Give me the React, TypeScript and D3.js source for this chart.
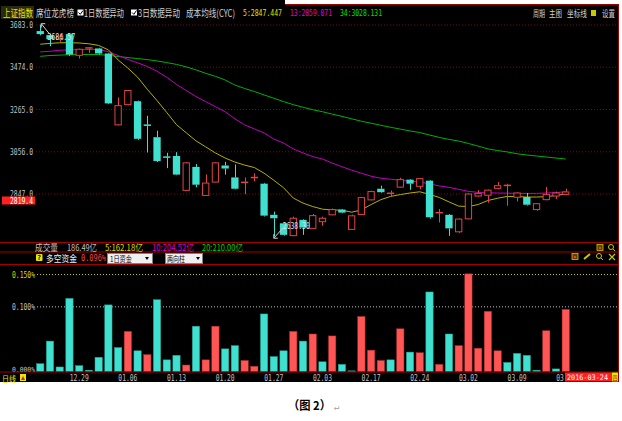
import React from 'react';
import * as d3 from 'd3';

// ---------- data ----------
const dates = ['12.23','12.24','12.25','12.28','12.29','12.30','12.31','01.04','01.05','01.06','01.07','01.08','01.11','01.12','01.13','01.14','01.15','01.18','01.19','01.20','01.21','01.22','01.25','01.26','01.27','01.28','01.29','02.01','02.02','02.03','02.04','02.05','02.15','02.16','02.17','02.18','02.19','02.22','02.23','02.24','02.25','02.26','02.29','03.01','03.02','03.03','03.04','03.07','03.08','03.09','03.10','03.11','03.14','03.15','03.16'];

const openP = [3653,3633,3612,3638,3533,3566,3567,3542,3189,3289,3306,3190,3128,3032,3035,2865,2981,2840,2906,2988,2929,2903,2927,2898,2744,2702,2641,2719,2677,2710,2744,2770,2672,2746,2818,2873,2851,2881,2918,2885,2913,2752,2744,2660,2724,2837,2841,2875,2890,2831,2832,2770,2819,2837,2845];
const closeP = [3638,3613,3628,3537,3563,3572,3542,3295,3284,3359,3120,3186,3010,3028,2943,3001,2893,2901,3001,2973,2873,2907,2931,2740,2727,2645,2727,2681,2740,2727,2770,2755,2739,2829,2859,2856,2853,2918,2898,2923,2732,2757,2677,2723,2847,2850,2866,2888,2892,2852,2794,2799,2845,2852,2857];
const highP = [3684.57,3640,3640,3642,3566,3574,3570,3545,3325,3362,3309,3234,3160,3051,3054,3005,2995,2944,3004,3006,2993,2929,2949,2902,2760,2705,2735,2722,2748,2735,2775,2773,2745,2833,2863,2888,2864,2927,2921,2926,2916,2773,2748,2726,2850,2866,2869,2906,2898,2855,2852,2802,2882,2859,2873];
const lowP = [3632,3578,3600,3530,3517,3545,3536,3292,3186,3286,3115,3052,3005,2975,2940,2862,2880,2838,2904,2943,2870,2846,2909,2736,2638.3,2641,2638.5,2645,2675,2690,2742,2752,2670,2744,2815,2853,2832,2879,2868,2870,2725,2706,2640,2655,2722,2834,2804,2870,2789,2810,2790,2764,2816,2822,2843];

const cyc5 = [3588,3592,3595,3595,3594,3590,3582,3560,3510,3470,3425,3365,3309,3250,3190,3150,3110,3080,3050,3025,3005,2990,2978,2950,2915,2878,2827,2802,2785,2772,2768,2767,2757,2768,2795,2819,2835,2844,2852,2858,2845,2830,2808,2787,2785,2795,2815,2826,2835,2834,2832,2832,2834,2840,2847];
const cyc13 = [3550,3553,3558,3560,3561,3562,3562,3551,3532,3513,3496,3478,3454,3424,3389,3359,3329,3304,3279,3254,3219,3189,3169,3149,3119,3099,3070,3050,3032,3020,3000,2982,2965,2950,2935,2925,2920,2915,2910,2907,2897,2887,2880,2870,2860,2855,2853,2852,2851,2850,2850,2850,2852,2854,2858];
const cyc34 = [3528,3532,3534,3536,3537,3537,3537,3533,3527,3522,3517,3512,3505,3497,3488,3476,3461,3444,3429,3411,3386,3369,3354,3337,3321,3304,3289,3276,3264,3254,3242,3231,3219,3207,3197,3187,3177,3168,3159,3151,3139,3127,3117,3109,3097,3084,3070,3062,3055,3046,3040,3035,3030,3025,3020];

// signed: + = inflow (red), - = outflow (cyan); percent
const fund = [-0.012,-0.047,-0.007,-0.113,-0.009,-0.002,-0.022,-0.103,-0.037,0.062,-0.032,0.026,-0.111,-0.018,-0.025,0.010,-0.070,0.018,0.070,-0.035,-0.040,0.017,0.008,-0.089,-0.023,-0.032,0.062,-0.047,0.058,-0.015,0.055,-0.011,-0.001,0.085,0.033,0.017,-0.018,0.066,-0.030,0.029,-0.123,0.011,-0.058,0.040,0.151,0.036,0.093,0.032,-0.014,-0.028,-0.025,-0.002,0.063,-0.004,0.096];

const priceTicks = [3683, 3474, 3265, 3056, 2847];
const fundTicks = [0.15, 0.1, 0];
const labelIdx = [4, 9, 14, 19, 24, 29, 34, 39, 44, 49, 54];

// ---------- style ----------
const MONO = '"DejaVu Sans Mono", monospace';
const CJK = '"Noto Sans CJK SC", sans-serif';
const CYAN = '#40E0D0';
const RED = '#FF5555';
const RED_C = '#E04444';
const GRID = '#8a0000';
const SEP = '#a00000';

function Txt({ x, y, w, fill = '#c0c0c0', size = 9, font = MONO, weight = 'normal', children, clip }: any) {
  return (
    <text x={x} y={y} fill={fill} fontSize={size} fontFamily={font} fontWeight={weight}
      textLength={w} lengthAdjust="spacingAndGlyphs" clipPath={clip}>{children}</text>
  );
}

export default function App() {
  const W = 622, H = 421;
  const n = dates.length;
  const xb = d3.scaleBand<number>().domain(d3.range(n)).range([35.4, 570.6]).paddingInner(0.25).paddingOuter(0.125);
  const bw = xb.bandwidth();
  const xc = (i: number) => (xb(i) as number) + bw / 2;
  const yP = d3.scaleLinear().domain([2847, 3683]).range([194, 25]);
  const yF = d3.scaleLinear().domain([0, 0.15]).range([371.5, 274.5]);

  const line = d3.line<number>().x((_, i) => xc(i)).y(d => yP(d));

  const hiIdx = d3.maxIndex(highP);
  const loIdx = d3.minIndex(lowP);

  return (
    <svg width={W} height={H} style={{ position: 'absolute', left: 0, top: 0, display: 'block' }}>
      <defs>
        <clipPath id="axisClip"><rect x={0} y={372} width={564.5} height={10} /></clipPath>
        <clipPath id="priceClip"><rect x={0} y={0} width={40} height={196.5} /></clipPath>
      </defs>
      <rect x={0} y={0} width={W} height={H} fill="#fff" />
      <rect x={0} y={0} width={619} height={382} fill="#000" />
      <rect x={285} y={0} width={337} height={4} fill="#fff" />
      <line x1={285} x2={619} y1={4.5} y2={4.5} stroke={SEP} />
      <line x1={618.5} x2={618.5} y1={4.5} y2={382} stroke={SEP} />

      {/* header */}
      <rect x={1} y={6} width={33} height={13} fill="#2a2a10" />
      <Txt x={3} y={17} w={30} fill="#e8e800" size={10} font={CJK}>上证指数</Txt>
      <Txt x={36} y={17} w={38} fill="#d0d0d0" size={10} font={CJK}>席位龙虎榜</Txt>
      <rect x={77.5} y={9.5} width={6} height={6} fill="#fff" />
      <path d="M78.5,12.5 L80.3,14.3 L83,10.5" stroke="#000" fill="none" strokeWidth={1} />
      <Txt x={84} y={17} w={40} fill="#d0d0d0" size={10} font={CJK}>1日数据异动</Txt>
      <rect x={131} y={9.5} width={6} height={6} fill="#fff" />
      <path d="M132,12.5 L133.8,14.3 L136.5,10.5" stroke="#000" fill="none" strokeWidth={1} />
      <Txt x={138} y={17} w={42} fill="#d0d0d0" size={10} font={CJK}>3日数据异动</Txt>
      <Txt x={186} y={17} w={49} fill="#d0d0d0" size={10} font={CJK}>成本均线(CYC)</Txt>
      <Txt x={243} y={16} w={39} fill="#e0e000" size={8}>5:2847.447</Txt>
      <Txt x={290} y={16} w={42} fill="#e000e0" size={8}>13:2859.071</Txt>
      <Txt x={340} y={16} w={42} fill="#00e000" size={8}>34:3028.131</Txt>
      <Txt x={533} y={17} w={12} fill="#d0d0d0" size={9} font={CJK}>周期</Txt>
      <Txt x={549} y={17} w={13} fill="#d0d0d0" size={9} font={CJK}>主图</Txt>
      <Txt x={567} y={17} w={20} fill="#d0d0d0" size={9} font={CJK}>坐标线</Txt>
      <rect x={591} y={10} width={5} height={6} fill="#c8c800" />
      <Txt x={602} y={17} w={13} fill="#d0d0d0" size={9} font={CJK}>设置</Txt>

      {/* price grid & labels */}
      {priceTicks.map(t => (
        <g key={t}>
          <line x1={36} x2={618} y1={yP(t)} y2={yP(t)} stroke={GRID} strokeDasharray="1,2" />
          <Txt x={10} y={yP(t) + 3} w={23} size={9} clip="url(#priceClip)">{t.toFixed(1)}</Txt>
        </g>
      ))}

      {/* moving cost lines */}
      <path d={line(cyc34) || ''} fill="none" stroke="#00b000" strokeWidth={1} />
      <path d={line(cyc13) || ''} fill="none" stroke="#c000c0" strokeWidth={1} />
      <path d={line(cyc5) || ''} fill="none" stroke="#b4b000" strokeWidth={1} />

      {/* candles */}
      {dates.map((_, i) => {
        const o = openP[i], c = closeP[i], h = highP[i], l = lowP[i];
        const up = c >= o;
        const x0 = xb(i) as number;
        const cx = Math.round(xc(i)) + 0.5;
        const top = yP(Math.max(o, c)), bot = yP(Math.min(o, c));
        const col = up ? RED_C : CYAN;
        const bh = Math.max(bot - top, 1);
        return (
          <g key={i}>
            <line x1={cx} x2={cx} y1={yP(h)} y2={top} stroke={col} />
            <line x1={cx} x2={cx} y1={top + bh} y2={yP(l)} stroke={col} />
            {bh <= 1.5 ? (
              <line x1={x0} x2={x0 + bw} y1={top + 0.5} y2={top + 0.5} stroke={col} strokeWidth={1.5} />
            ) : up ? (
              <rect x={x0 + 0.5} y={top} width={bw - 1} height={bh} fill="#000" stroke={col} />
            ) : (
              <rect x={x0} y={top} width={bw} height={bh} fill={col} />
            )}
          </g>
        );
      })}

      {/* extreme annotations */}
      <g stroke="#d0d0d0" fill="none">
        <line x1={xc(hiIdx) + 1} y1={yP(highP[hiIdx]) - 1} x2={xc(hiIdx) + 9} y2={yP(highP[hiIdx]) + 9} />
        <path d={`M${xc(hiIdx) + 1},${yP(highP[hiIdx]) + 3} L${xc(hiIdx) + 1},${yP(highP[hiIdx]) - 1} L${xc(hiIdx) + 5},${yP(highP[hiIdx]) - 1}`} />
        <line x1={xc(loIdx)} y1={yP(lowP[loIdx]) + 2} x2={xc(loIdx) + 9} y2={yP(lowP[loIdx]) - 8} />
        <path d={`M${xc(loIdx)},${yP(lowP[loIdx]) - 2} L${xc(loIdx)},${yP(lowP[loIdx]) + 2} L${xc(loIdx) + 4},${yP(lowP[loIdx]) + 2}`} />
      </g>
      <Txt x={xc(hiIdx) + 7} y={yP(highP[hiIdx]) + 15} w={28} fill="#e0e0e0" size={9}>{highP[hiIdx].toFixed(2)}</Txt>
      <Txt x={xc(loIdx) + 9} y={yP(lowP[loIdx]) - 7} w={27} fill="#e0e0e0" size={9}>{lowP[loIdx].toFixed(2)}</Txt>

      {/* current price tag */}
      <rect x={2} y={196.5} width={33} height={8} fill="#ff2020" />
      <Txt x={10} y={203.5} w={23} fill="#fff" size={8}>2819.4</Txt>

      {/* separators */}
      <line x1={0} x2={619} y1={242.5} y2={242.5} stroke={SEP} />
      <line x1={0} x2={619} y1={252} y2={252} stroke={SEP} />
      <line x1={0} x2={619} y1={264.5} y2={264.5} stroke={SEP} />

      {/* volume row */}
      <Txt x={35} y={251} w={23} fill="#c0c0c0" size={9} font={CJK}>成交量</Txt>
      <Txt x={67} y={251} w={30} fill="#c0c0c0" size={9} font={CJK}>186.49亿</Txt>
      <Txt x={105} y={251} w={38} fill="#d8d800" size={9} font={CJK}>5:162.18亿</Txt>
      <Txt x={152} y={251} w={42} fill="#d800d8" size={9} font={CJK}>10:204.52亿</Txt>
      <Txt x={202} y={251} w={41} fill="#00d000" size={9} font={CJK}>20:210.00亿</Txt>
      <rect x={597} y={244.5} width={6} height={6} fill="#604000" stroke="#c8c800" strokeWidth={0.8} />
      <rect x={599} y={247} width={2} height={2} fill="#ff3030" />
      <circle cx={611} cy={247} r={2.5} fill="none" stroke="#c8c800" />
      <line x1={613} y1={249} x2={615} y2={251} stroke="#c8c800" />

      {/* fund row */}
      <rect x={36} y={254} width={6.5} height={7} fill="#e8e800" rx={1} />
      <text x={39.2} y={260} fontSize={7} fontFamily={MONO} fontWeight="bold" textAnchor="middle" fill="#000">?</text>
      <Txt x={46} y={262} w={31} fill="#f0f0f0" size={9} font={CJK}>多空资金</Txt>
      <Txt x={81} y={261} w={25} fill="#ff4040" size={8}>0.096%</Txt>
      <rect x={107.5} y={253.5} width={45} height={10} fill="#f0f0f0" stroke="#808080" />
      <Txt x={110} y={261.5} w={22} fill="#000" size={8} font={CJK}>1日资金</Txt>
      <path d="M145,257 L149,257 L147,260 Z" fill="#000" />
      <rect x={165.5} y={253.5} width={37} height={10} fill="#f0f0f0" stroke="#808080" />
      <Txt x={167} y={261.5} w={18} fill="#000" size={8} font={CJK}>两向柱</Txt>
      <path d="M196,257 L200,257 L198,260 Z" fill="#000" />
      <rect x={572} y={253.5} width={6} height={6} fill="#604000" stroke="#c8c800" strokeWidth={0.8} />
      <rect x={574} y={256} width={2} height={2} fill="#ff3030" />
      <line x1={584} y1={259} x2={590} y2={254} stroke="#c8c800" strokeWidth={2} />
      <circle cx={599} cy={256} r={2.5} fill="none" stroke="#c8c800" />
      <line x1={601} y1={258} x2={603} y2={260} stroke="#c8c800" />
      <path d="M609,254 L615,260 M615,254 L609,260" stroke="#c8c800" strokeWidth={1.2} />

      {/* fund panel */}
      {fundTicks.map(t => (
        <g key={t}>
          {t > 0 && (
            <line x1={37} x2={618} y1={yF(t)} y2={yF(t)} stroke={t === 0.15 ? '#c8c800' : '#c0c0c0'} strokeDasharray="1,2" />
          )}
          <Txt x={12} y={t === 0 ? yF(t) + 0.5 : yF(t) + 3} w={23} fill={t === 0.15 ? '#d8d800' : '#c0c0c0'} size={t === 0 ? 7 : 8}>{t.toFixed(3) + '%'}</Txt>
        </g>
      ))}
      {fund.map((v, i) => (
        <rect key={i} x={xb(i)} y={yF(Math.abs(v))} width={bw} height={yF(0) - yF(Math.abs(v))}
          fill={v >= 0 ? RED : CYAN} stroke={v >= 0 ? '#b03030' : '#20a090'} strokeWidth={0.5} />
      ))}
      <line x1={0} x2={619} y1={372} y2={372} stroke={SEP} />

      {/* x axis */}
      {labelIdx.map(i => (
        <Txt key={i} x={xc(i) - 9.5} y={381} w={19} fill="#c0c0c0" size={8} clip="url(#axisClip)">{dates[i]}</Txt>
      ))}
      <Txt x={2} y={381.5} w={14} fill="#e8e800" size={8.5} font={CJK}>日线</Txt>
      <rect x={20} y={374} width={6} height={7} fill="#e8e800" />
      <path d="M21,380 L23,376 L25,380 Z" fill="#e02020" />
      <rect x={565} y={372.5} width={47} height={9} fill="#ff2020" />
      <Txt x={567} y={380} w={41} fill="#fff" size={7.5}>2016-03-24</Txt>
      <rect x={612} y={372.5} width={6} height={9} fill="#e8e800" />
      <Txt x={612.5} y={379.5} w={5} fill="#c00000" size={6} font={CJK}>四</Txt>

      {/* caption */}
      <Txt x={288} y={410} w={43} fill="#000" size={12} font={CJK} weight="bold">（图 2）</Txt>
      <text x={334} y={410} fontSize={9} fill="#a0a0a0" fontFamily={MONO}>↵</text>
    </svg>
  );
}
